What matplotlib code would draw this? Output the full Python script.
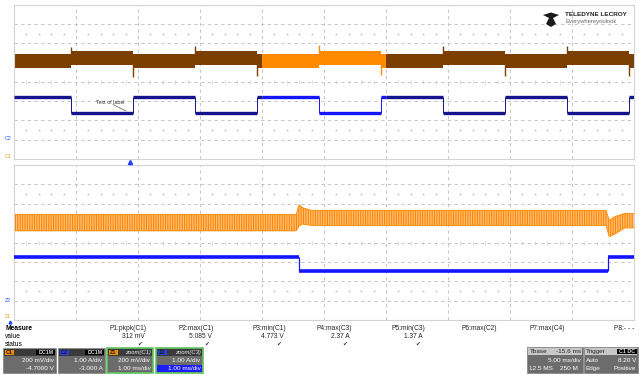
import numpy as np
import matplotlib
matplotlib.use("Agg")
import matplotlib.pyplot as plt
from matplotlib.patches import Rectangle, Polygon

plt.rcParams['font.family'] = ['Liberation Sans', 'DejaVu Sans']
plt.rcParams['hatch.linewidth'] = 0.8

# ---- main timebase (5 ms/div, 50 ms), vertical units = divisions ----
main_edges = [0, 4.6, 9.6, 14.6, 19.6, 24.6, 29.6, 34.6, 39.6, 44.6, 49.6, 50]
main_c3 = [3.22, 2.39, 3.22, 2.39, 3.22, 2.39, 3.22, 2.39, 3.22, 2.39, 3.22]
main_c1_lo = [4.75, 4.90, 4.75, 4.90, 4.75, 4.90, 4.75, 4.90, 4.75, 4.90, 4.75]
main_c1_hi = [5.45, 5.60, 5.45, 5.60, 5.45, 5.60, 5.45, 5.60, 5.45, 5.60, 5.45]
spike_t = [4.6, 9.6, 14.6, 19.6, 24.6, 29.6, 34.6, 39.6, 44.6, 49.6]
spike_lo = [5.0, 4.28, 5.0, 4.30, 5.0, 4.36, 5.0, 4.30, 5.0, 4.30]
spike_hi = [5.82, 5.3, 5.85, 5.3, 5.92, 5.3, 5.85, 5.3, 5.85, 5.3]
zoom_win = (20.0, 30.0)

# ---- zoom traces (1 ms/div, 10 ms) ----
zoom_edges = [0, 4.6, 9.58, 10]
zoom_c3 = [3.25, 2.53, 3.25]
zoom_t = [0, 4.55, 4.6, 4.65, 4.8, 9.55, 9.6, 9.7, 9.85, 10]
zoom_lo = [4.60, 4.60, 4.85, 4.95, 4.88, 4.88, 4.30, 4.45, 4.75, 4.75]
zoom_hi = [5.45, 5.45, 5.95, 5.80, 5.66, 5.66, 5.15, 5.35, 5.50, 5.50]

# ---- measurement table ----
meas_names = ['P1:pkpk(C1)', 'P2:max(C1)', 'P3:min(C1)', 'P4:max(C3)',
              'P5:min(C3)', 'P6:max(C2)', 'P7:max(C4)', 'P8:- - -']
meas_vals = ['312 mV', '5.085 V', '4.773 V', '2.37 A', '1.37 A', '', '', '']
meas_ok = [True, True, True, True, True, False, False, False]

BROWN = '#7b3f00'
ORANGE = '#ff8a00'
NAVY = '#14148c'
BLUE = '#1414ff'
GRID = '#bdbdbd'

fig = plt.figure(figsize=(6.39, 3.75), dpi=100)
ax_top = fig.add_axes([14 / 639, 1 - 159 / 375, 620 / 639, 154 / 375])
ax_bot = fig.add_axes([14 / 639, 1 - 320 / 375, 620 / 639, 155 / 375])


def setup_panel(ax, tmax):
    ax.set_xlim(0, tmax)
    ax.set_ylim(0, 8)
    ax.set_xticks([])
    ax.set_yticks([])
    for s in ax.spines.values():
        s.set_color('#d4d4d4')
        s.set_linewidth(0.8)
    for k in range(1, 10):
        ax.axvline(k * tmax / 10, color=GRID, ls=(0, (4, 4)), lw=0.6, zorder=0)
    for k in range(1, 8):
        ax.axhline(k, color=GRID, ls=(0, (4, 4)), lw=0.6, zorder=0)
    xs = np.arange(0, tmax, tmax / 50)
    xs = xs[np.abs((xs / (tmax / 10)) - np.round(xs / (tmax / 10))) > 1e-6]
    for yy in (6.5, 1.5):
        ax.plot(xs, np.full_like(xs, yy), ls='none', marker='s', ms=0.6,
                color='#d2d2d2', zorder=0)
    ax.plot(xs, np.full_like(xs, 4.0), ls='none', marker='|', ms=2.2,
            mew=0.4, color='#c4c4c4', zorder=0)


setup_panel(ax_top, 50)
setup_panel(ax_bot, 10)

# main C1 band + C3 steps
for i in range(len(main_edges) - 1):
    a, b = main_edges[i], main_edges[i + 1]
    pieces = []
    if b <= zoom_win[0] or a >= zoom_win[1]:
        pieces = [(a, b, False)]
    else:
        if a < zoom_win[0]:
            pieces.append((a, zoom_win[0], False))
        pieces.append((max(a, zoom_win[0]), min(b, zoom_win[1]), True))
        if b > zoom_win[1]:
            pieces.append((zoom_win[1], b, False))
    for pa, pb, z in pieces:
        ax_top.fill_between([pa, pb], main_c1_lo[i], main_c1_hi[i],
                            color=ORANGE if z else BROWN, lw=0, zorder=2)
        ax_top.hlines(main_c3[i], pa, pb, color=BLUE if z else NAVY,
                      lw=2.4, zorder=3)
for i, t in enumerate(spike_t):
    z = zoom_win[0] <= t <= zoom_win[1]
    ax_top.vlines(t, spike_lo[i], spike_hi[i], color=ORANGE if z else BROWN,
                  lw=1.0, zorder=2)
    ax_top.vlines(t, min(main_c3[i], main_c3[i + 1]),
                  max(main_c3[i], main_c3[i + 1]),
                  color=BLUE if z else NAVY, lw=0.7, zorder=3)

# zoom traces
ax_bot.fill_between(zoom_t, zoom_lo, zoom_hi, facecolor='#ffc27a',
                    edgecolor='#ff8400', hatch='|||||||', lw=0, zorder=2)
ax_bot.plot(zoom_t, zoom_lo, color=ORANGE, lw=0.6, zorder=2)
ax_bot.plot(zoom_t, zoom_hi, color=ORANGE, lw=0.6, zorder=2)
for i in range(len(zoom_c3)):
    ax_bot.hlines(zoom_c3[i], zoom_edges[i], zoom_edges[i + 1],
                  color=BLUE, lw=2.6, zorder=3)
for i in range(1, len(zoom_c3)):
    ax_bot.vlines(zoom_edges[i], zoom_c3[i - 1], zoom_c3[i], color=BLUE,
                  lw=0.9, zorder=3)

# ---- overlay with UI elements in pixel coordinates ----
ui = fig.add_axes([0, 0, 1, 1], zorder=5)
ui.set_xlim(0, 639)
ui.set_ylim(375, 0)
ui.axis('off')

fs = 4.8
ui.text(96, 102, 'Text of label', fontsize=3.8, color='#333333', va='center')
ui.plot([113, 126], [104.5, 111], color='#555555', lw=0.5)

ui.text(8, 138, 'C2', fontsize=3.8, color='#3050ff', ha='center', va='center')
ui.text(8, 156, 'C1', fontsize=3.8, color='#ff9020', ha='center', va='center')
ui.text(8, 300, 'Z2', fontsize=3.8, color='#3050ff', ha='center', va='center')
ui.text(8, 317, 'Z1', fontsize=3.8, color='#ff9020', ha='center', va='center')
ui.plot([130], [161.5], marker='^', ms=3, color='#2040ff')
ui.plot([10], [322], marker='^', ms=2, color='#2040ff')

# logo
ui.add_patch(Polygon([[543, 15], [551, 12.5], [559, 15], [553, 18],
                      [556, 24], [551, 27], [546, 24], [549, 18]],
                     closed=True, fc='#1a1a1a', ec='none'))
ui.text(565, 15, 'TELEDYNE LECROY', fontsize=4.6, fontweight='bold',
        color='#222222', va='center')
ui.text(565, 21.5, 'Everywhereyoulook', fontsize=4.2, color='#666666',
        va='center')

# measurement table
ui.text(5, 328, 'Measure', fontsize=fs, fontweight='bold', va='center')
ui.text(5, 336, 'value', fontsize=fs, va='center')
ui.text(5, 344, 'status', fontsize=fs, va='center')
col_right = [147, 214, 286, 352, 425, 497, 565, 634]
for i, name in enumerate(meas_names):
    ui.text(col_right[i], 328, name, fontsize=fs, ha='right', va='center',
            color='#222222')
    if meas_vals[i]:
        ui.text(col_right[i] - 2, 336, meas_vals[i], fontsize=fs, ha='right',
                va='center', color='#222222')
    if meas_ok[i]:
        ui.text(col_right[i] - 5, 344, '\u2714', fontsize=4.2, ha='right',
                va='center', color='#333333')


def chan_box(x, w, tag, tagcol, hdr, lines, green=False, hdr_black=True,
             hilite=False):
    ui.add_patch(Rectangle((x, 348), w, 25, fc='#6c6c6c',
                           ec='#5fc45f' if green else '#8a8a8a',
                           lw=1.2 if green else 0.6))
    ui.add_patch(Rectangle((x + 0.8, 348.8), w - 1.6, 7, fc='#3a3a3a', lw=0))
    ui.add_patch(Rectangle((x + 1.5, 349.5), 9, 5.8, fc=tagcol, lw=0))
    ui.text(x + 6, 352.4, tag, fontsize=4, ha='center', va='center',
            color='#1a1a1a', fontweight='bold')
    if hdr_black:
        ui.add_patch(Rectangle((x + w - 20, 349.5), 18.5, 5.8, fc='black',
                               lw=0))
        ui.text(x + w - 2.5, 352.4, hdr, fontsize=3.8, ha='right',
                va='center', color='#e0e0e0', fontweight='bold')
    else:
        ui.text(x + w - 2.5, 352.4, hdr, fontsize=4.2, ha='right',
                va='center', color='#f0f0f0', style='italic')
    if hilite:
        ui.add_patch(Rectangle((x + 1, 365), w - 2, 7.2, fc='#1c1cff', lw=0))
    ui.text(x + w - 2.5, 361, lines[0], fontsize=4.6, ha='right',
            va='center', color='white')
    ui.text(x + w - 2.5, 368.7, lines[1], fontsize=4.6, ha='right',
            va='center', color='white')


chan_box(3, 53, 'C1', '#f28c00', 'DC1M', ['200 mV/div', '-4.7000 V'])
chan_box(58, 47, 'C2', '#2a3fe0', 'DC1M', ['1.00 A/div', '-3.000 A'])
chan_box(107, 46, 'Z1', '#f28c00', 'zoom(C1)', ['200 mV/div', '1.00 ms/div'],
         green=True, hdr_black=False)
chan_box(156, 47, 'Z2', '#2a3fe0', 'zoom(C3)', ['1.00 A/div', '1.00 ms/div'],
         green=True, hdr_black=False, hilite=True)

# timebase and trigger boxes
ui.add_patch(Rectangle((527, 347), 56, 26, fc='#6c6c6c', ec='#8a8a8a', lw=0.6))
ui.add_patch(Rectangle((527.8, 347.8), 54.4, 7, fc='#c8c8c8', lw=0))
ui.text(530, 351.3, 'Tbase', fontsize=4.6, va='center', color='#202020')
ui.text(581, 351.3, '-15.6 ms', fontsize=4.6, va='center', ha='right',
        color='#202020')
ui.text(581, 360, '5.00 ms/div', fontsize=4.6, va='center', ha='right',
        color='white')
ui.text(529, 368.5, '12.5 MS', fontsize=4.6, va='center', color='white')
ui.text(578, 368.5, '250 M', fontsize=4.6, va='center', ha='right',
        color='white')

ui.add_patch(Rectangle((584, 347), 54, 26, fc='#6c6c6c', ec='#8a8a8a', lw=0.6))
ui.add_patch(Rectangle((584.8, 347.8), 52.4, 7, fc='#c8c8c8', lw=0))
ui.text(586, 351.3, 'Trigger', fontsize=4.6, va='center', color='#202020')
ui.add_patch(Rectangle((617, 348.5), 19.5, 5.5, fc='black', lw=0))
ui.text(635.5, 351.3, 'C1 DC', fontsize=3.8, va='center', ha='right',
        color='#e0e0e0', fontweight='bold')
ui.text(586, 360, 'Auto', fontsize=4.6, va='center', color='white')
ui.text(636, 360, '8.20 V', fontsize=4.6, va='center', ha='right',
        color='white')
ui.text(586, 368.5, 'Edge', fontsize=4.6, va='center', color='white')
ui.text(636, 368.5, 'Positive', fontsize=4.6, va='center', ha='right',
        color='white')

fig.savefig('out.png', dpi=100)
